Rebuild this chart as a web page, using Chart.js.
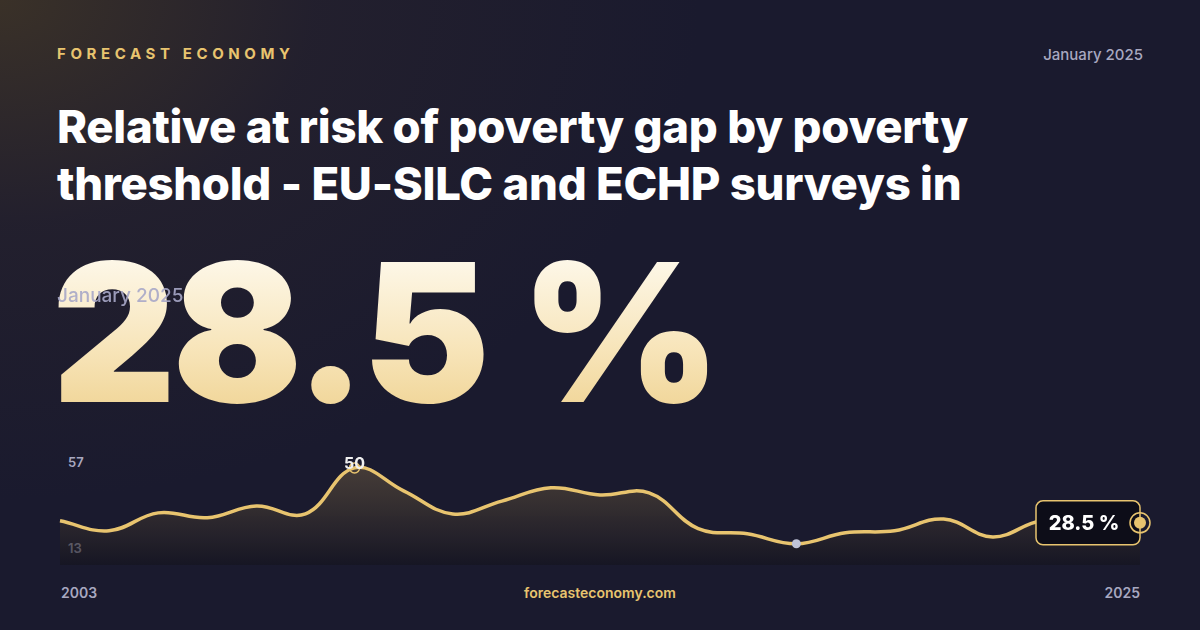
<!DOCTYPE html>
<html><head><meta charset="utf-8">
<script src="https://cdn.jsdelivr.net/npm/chart.js@4"></script>
<style>
html,body{margin:0;padding:0}
body{width:1200px;height:630px;overflow:hidden;position:relative;font-family:Inter,"Noto Sans",sans-serif;
background:radial-gradient(ellipse 700px 500px at 0px 0px,#3a3128 0%,rgba(40,35,45,0.6) 45%,rgba(26,26,46,0) 100%),#1a1a2e;}
.t{position:absolute}
#brand{left:57px;top:44px;color:#e8c46f;font-weight:700;font-size:15px;letter-spacing:4.6px}
#date{right:57px;top:45px;color:#a8a8c0;font-size:15px;font-weight:500}
#title{left:57px;top:98px;color:#fff;font-weight:800;font-size:45.5px;line-height:57px;width:1060px;letter-spacing:-0.3px}
#big{left:52px;top:232px;font-weight:900;font-size:192px;line-height:200px;letter-spacing:-4px;
background:linear-gradient(180deg,#fffdf6 0%,#f7e4b8 60%,#eed08c 100%);-webkit-background-clip:text;background-clip:text;color:transparent}
#sub{left:57px;top:284px;color:#a8a8c8;font-size:19px;font-weight:500;opacity:.9}
#y1{left:68px;top:454px;color:#a8a8c0;font-size:13px;font-weight:600}
#y2{left:68px;top:540px;color:#a8a8c0;font-size:13px;font-weight:600}
#x1{left:61px;top:584px;color:#a8a8c0;font-size:14px;font-weight:600}
#x2{right:60px;top:584px;color:#a8a8c0;font-size:14px;font-weight:600}
#site{left:0;width:1200px;text-align:center;top:584px;color:#e8c46f;font-size:14px;font-weight:600}
#wrap{position:absolute;left:40px;top:440px;width:1120px;height:125px}
</style></head><body>
<div class="t" id="brand">FORECAST ECONOMY</div>
<div class="t" id="date">January 2025</div>
<div class="t" id="title">Relative at risk of poverty gap by poverty threshold - EU-SILC and ECHP surveys in</div>
<div class="t" id="big">28.5 %</div>
<div class="t" id="sub">January 2025</div>
<div class="t" id="y1">57</div>
<div class="t" id="y2">13</div>
<div class="t" id="x1">2003</div>
<div class="t" id="x2">2025</div>
<div class="t" id="site">forecasteconomy.com</div>
<div id="wrap"><canvas id="c"></canvas></div>
<script>
const years=[2003,2004,2005,2006,2007,2008,2009,2010,2011,2012,2013,2014,2015,2016,2017,2018,2019,2020,2021,2022,2023,2024,2025];
const values=[29.3,25.4,32.4,30.5,35.1,32,50,41,32,37,42.2,39.4,40.2,26.2,24.2,20.3,24.6,25.4,30,23,29.3,28,28.5];
const yMin=12, yMax=57;
const labelUnit=' %';

const overlay={id:'overlay',afterDatasetsDraw(ch){
  const ctx=ch.ctx, m=ch.getDatasetMeta(0).data;
  const last=m[m.length-1];
  let maxI=values.indexOf(Math.max(...values)), minI=values.indexOf(Math.min(...values));
  ctx.save();
  ctx.fillStyle='#c0c4d8';ctx.beginPath();ctx.arc(m[minI].x,m[minI].y,4.5,0,Math.PI*2);ctx.fill();
  ctx.strokeStyle='#e8c46f';ctx.lineWidth=1.5;ctx.beginPath();ctx.arc(m[maxI].x,m[maxI].y,5,0,Math.PI*2);ctx.stroke();
  ctx.fillStyle='#f0f0f0';ctx.font='700 16px Inter';ctx.textAlign='center';ctx.textBaseline='bottom';
  ctx.fillText(String(values[maxI]),m[maxI].x,m[maxI].y+4);
  const bw=104,bh=44,bx=last.x-bw,by=last.y-bh/2;
  ctx.fillStyle='#0d0d18';ctx.strokeStyle='#e8c46f';ctx.lineWidth=1.5;
  ctx.beginPath();ctx.roundRect(bx,by,bw,bh,7);ctx.fill();ctx.stroke();
  ctx.fillStyle='#fff';ctx.font='800 20px Inter';ctx.textAlign='center';ctx.textBaseline='middle';
  ctx.fillText(values[values.length-1]+labelUnit,bx+bw/2-4,last.y+1);
  ctx.fillStyle='#e8c46f';ctx.beginPath();ctx.arc(last.x,last.y,6,0,Math.PI*2);ctx.fill();
  ctx.strokeStyle='#e8c46f';ctx.lineWidth=1.5;ctx.beginPath();ctx.arc(last.x,last.y,10,0,Math.PI*2);ctx.stroke();
  ctx.restore();
}};
new Chart(document.getElementById('c'),{type:'line',
 data:{labels:years,datasets:[{data:values,borderColor:'#e8c46f',borderWidth:3.5,tension:0.4,pointRadius:0,fill:'start',
  backgroundColor(ctx){const a=ctx.chart.chartArea;if(!a)return 'transparent';const g=ctx.chart.ctx.createLinearGradient(0,a.top,0,a.bottom);g.addColorStop(0,'rgba(120,100,70,0.55)');g.addColorStop(1,'rgba(20,20,30,0.6)');return g;}}]},
 options:{responsive:true,maintainAspectRatio:false,animation:false,layout:{padding:{left:20,right:20,top:10,bottom:0}},
  plugins:{legend:{display:false},tooltip:{enabled:false}},
  scales:{x:{display:false},y:{display:false,min:yMin,max:yMax}}},
 plugins:[overlay]});
</script></body></html>
